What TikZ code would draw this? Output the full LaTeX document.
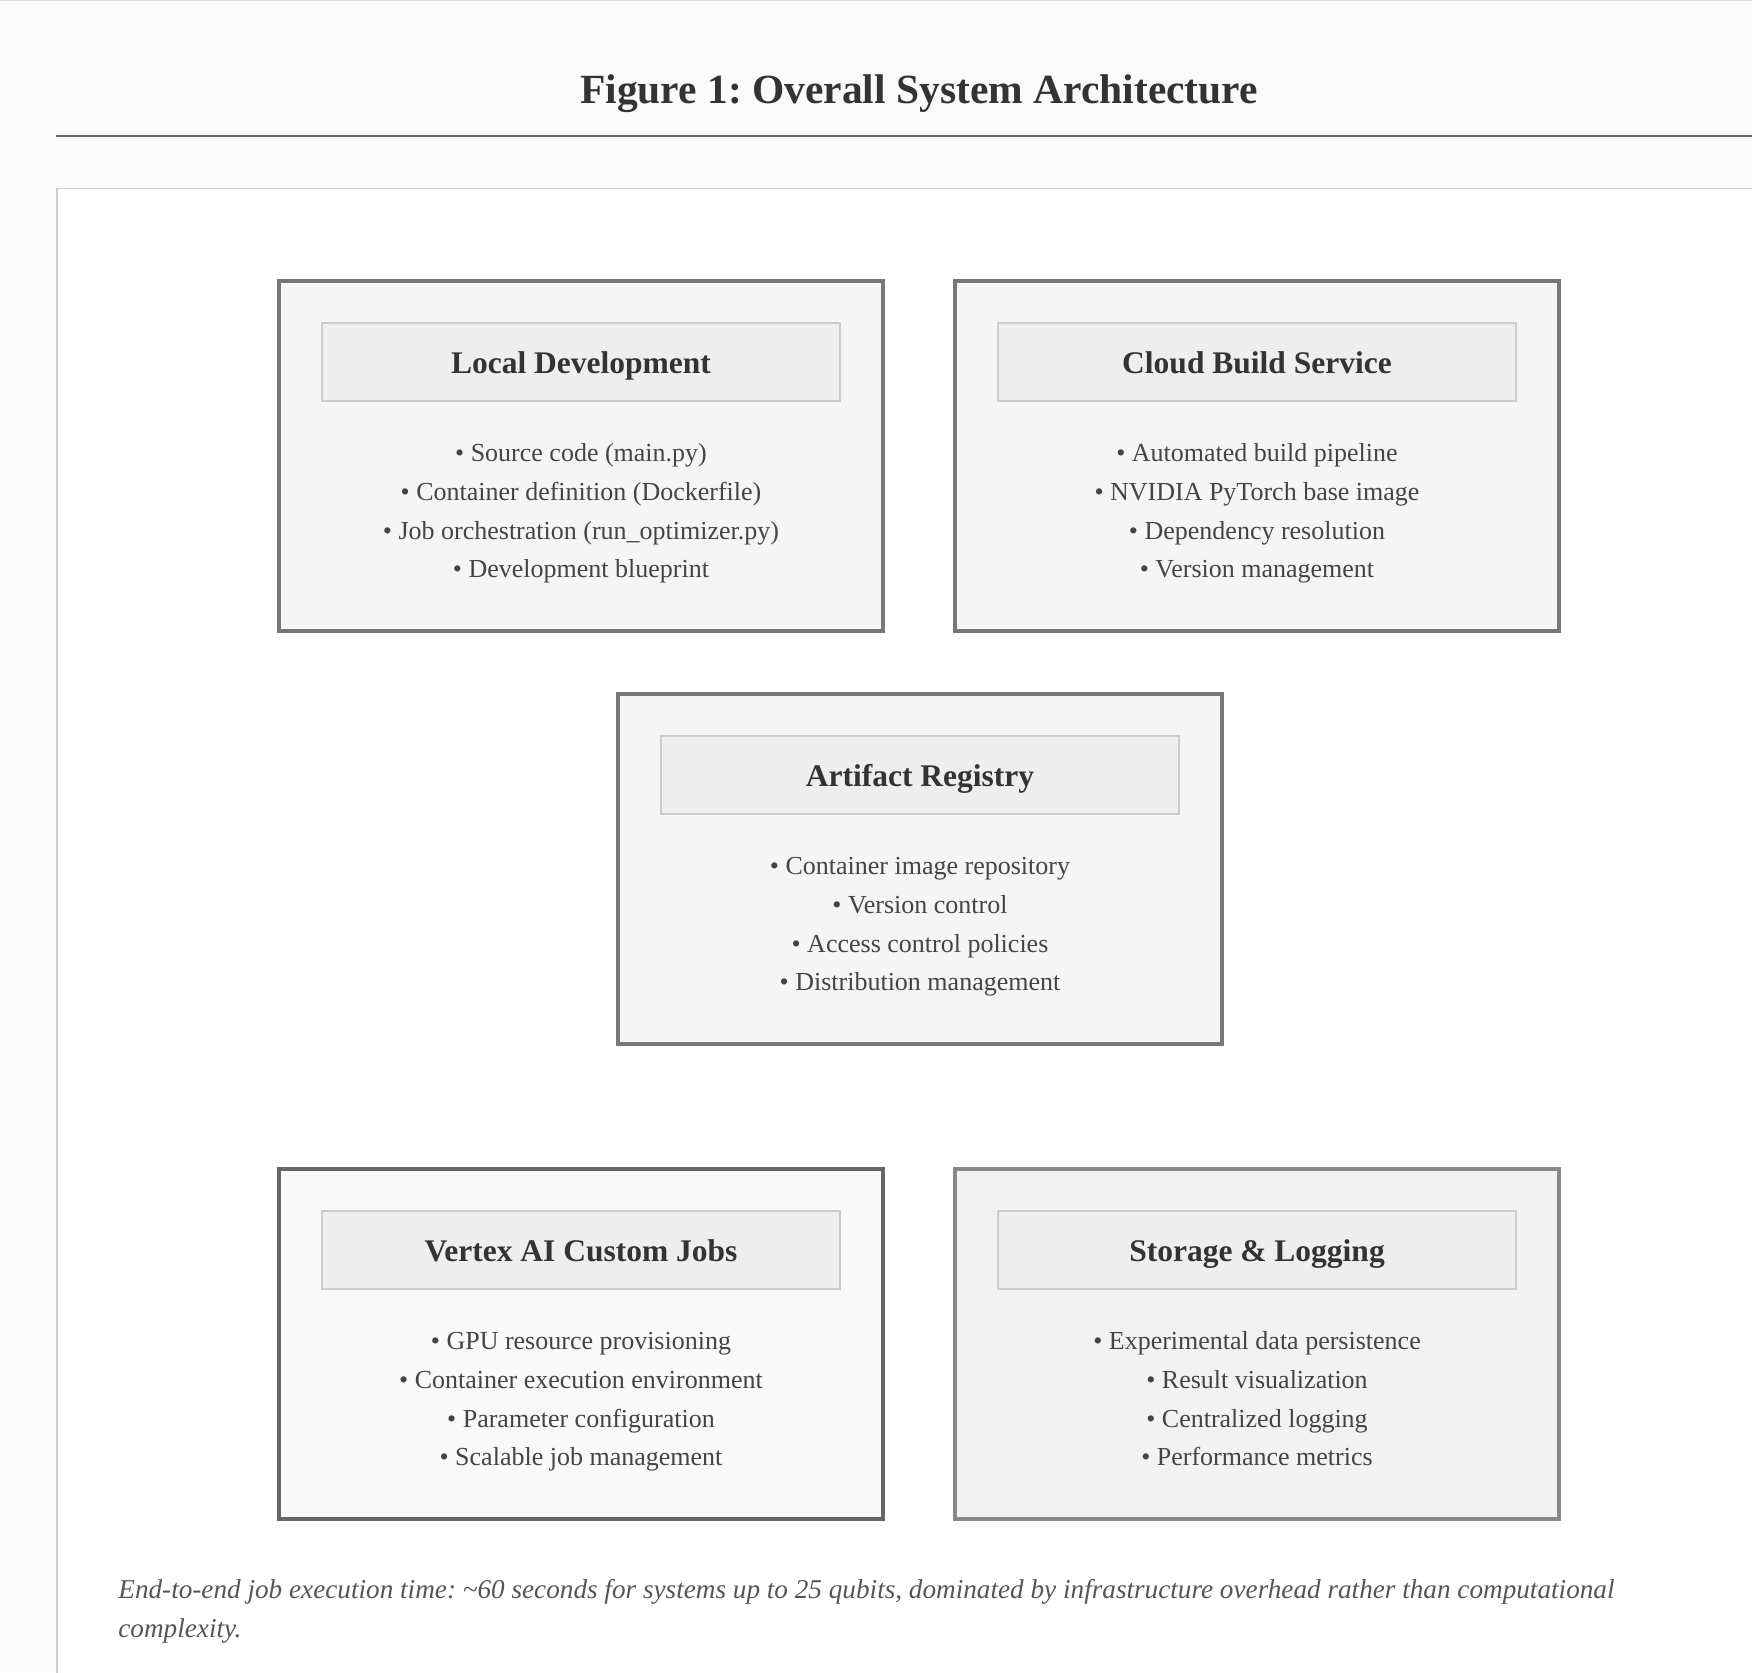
\documentclass[tikz,border=0pt]{standalone}
\usepackage{fontspec}
\setmainfont{Liberation Serif}
\frenchspacing
\definecolor{pagebg}{HTML}{FAFAFA}
\definecolor{topline}{HTML}{DDDDDD}
\definecolor{rulec}{HTML}{666666}
\definecolor{panelline}{HTML}{CCCCCC}
\definecolor{titlec}{HTML}{333333}
\definecolor{textc}{HTML}{444444}
\definecolor{capc}{HTML}{555555}
\definecolor{hdrfill}{HTML}{EEEEEE}
\definecolor{hdrline}{HTML}{CCCCCC}
\definecolor{bdA}{HTML}{777777}
\definecolor{fillA}{HTML}{F5F5F5}
\definecolor{bdB}{HTML}{666666}
\definecolor{fillB}{HTML}{F9F9F9}
\definecolor{bdC}{HTML}{888888}
\definecolor{fillC}{HTML}{F2F2F2}
\tikzset{
  compbox/.style={draw=bdA, fill=fillA, line width=2pt, minimum width=302pt, minimum height=175pt, inner sep=0pt},
  hdrbox/.style={draw=hdrline, fill=hdrfill, line width=1pt, minimum width=259pt, minimum height=39pt, inner sep=0pt,
    text height=14pt, text depth=2.6pt,
    font=\fontsize{15.75pt}{18pt}\selectfont\bfseries, text=titlec},
  itemline/.style={anchor=base, inner sep=0pt, font=\fontsize{13pt}{19.5pt}\selectfont, text=textc},
  captext/.style={anchor=base west, inner sep=0pt, font=\fontsize{13.6pt}{20pt}\selectfont\itshape, text=capc}
}
\begin{document}
\begin{tikzpicture}[x=0.5pt, y=-0.5pt]
\useasboundingbox (0,0) rectangle (1752,1672);
\fill[pagebg] (0,0) rectangle (1752,1672);
\draw[topline, line width=0.5pt] (0,0.5) -- (1752,0.5);
% title
\node[anchor=base, inner sep=0pt, font=\fontsize{20.75pt}{24pt}\selectfont\bfseries, text=titlec] (title) at (919,103.5) {Figure 1: Overall System Architecture};
\draw[rulec, line width=1pt] (56,136) -- (1752,136);
% panel
\draw[panelline, fill=white, line width=0.75pt] (1760,188.5) -- (56.75,188.5) -- (56.75,1680) -- (1760,1680);

% Local Development (top 279)
\node[compbox] (ld) at (581,456) {};
\node[hdrbox] (ldh) at (581,362) {Local Development};
\node[itemline] (ld1) at (581,461) {• Source code (main.py)};
\node[itemline] (ld2) at (581,500) {• Container definition (Dockerfile)};
\node[itemline] (ld3) at (581,539) {• Job orchestration (run\_optimizer.py)};
\node[itemline] (ld4) at (581,577.5) {• Development blueprint};

% Cloud Build Service
\node[compbox] (cb) at (1257,456) {};
\node[hdrbox] (cbh) at (1257,362) {Cloud Build Service};
\node[itemline] (cb1) at (1257,461) {• Automated build pipeline};
\node[itemline] (cb2) at (1257,500) {• NVIDIA PyTorch base image};
\node[itemline] (cb3) at (1257,539) {• Dependency resolution};
\node[itemline] (cb4) at (1257,577.5) {• Version management};

% Artifact Registry (top 692)
\node[compbox] (ar) at (920,869) {};
\node[hdrbox] (arh) at (920,775) {Artifact Registry};
\node[itemline] (ar1) at (920,874) {• Container image repository};
\node[itemline] (ar2) at (920,913) {• Version control};
\node[itemline] (ar3) at (920,952) {• Access control policies};
\node[itemline] (ar4) at (920,990.5) {• Distribution management};

% Vertex AI Custom Jobs (top 1167)
\node[compbox, draw=bdB, fill=fillB] (vx) at (581,1344) {};
\node[hdrbox] (vxh) at (581,1250) {Vertex AI Custom Jobs};
\node[itemline] (vx1) at (581,1349) {• GPU resource provisioning};
\node[itemline] (vx2) at (581,1388) {• Container execution environment};
\node[itemline] (vx3) at (581,1427) {• Parameter configuration};
\node[itemline] (vx4) at (581,1465.5) {• Scalable job management};

% Storage & Logging
\node[compbox, draw=bdC, fill=fillC] (sl) at (1257,1344) {};
\node[hdrbox] (slh) at (1257,1250) {Storage \& Logging};
\node[itemline] (sl1) at (1257,1349) {• Experimental data persistence};
\node[itemline] (sl2) at (1257,1388) {• Result visualization};
\node[itemline] (sl3) at (1257,1427) {• Centralized logging};
\node[itemline] (sl4) at (1257,1465.5) {• Performance metrics};

% caption
\node[captext] (cap1) at (118,1598) {End-to-end job execution time: \textasciitilde 60 seconds for systems up to 25 qubits, dominated by infrastructure overhead rather than computational};
\node[captext] (cap2) at (118,1637) {complexity.};
\end{tikzpicture}
\end{document}
